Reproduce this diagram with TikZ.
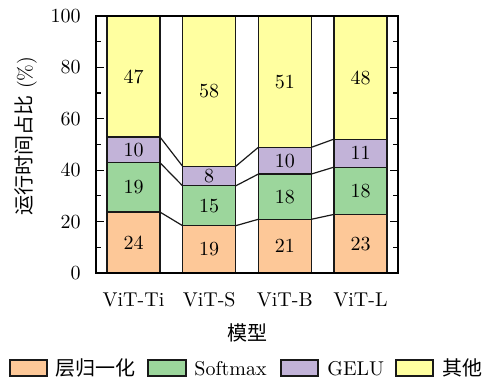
\documentclass[tikz,border=0pt]{standalone}
\usepackage{fontspec}
\newfontfamily\cjk{Noto Sans CJK SC}
\definecolor{cLN}{RGB}{253,200,152}
\definecolor{cSM}{RGB}{156,214,156}
\definecolor{cGE}{RGB}{194,179,216}
\definecolor{cOT}{RGB}{255,255,160}
\tikzset{
  seg/.style={draw=black!90, line width=0.6pt},
  link/.style={draw=black!90, line width=0.6pt},
  axisline/.style={draw=black, line width=0.6pt},
  val/.style={inner sep=0pt, font=\normalsize},
  ylbl/.style={anchor=east, inner sep=0pt},
}
\begin{document}
\begin{tikzpicture}[x=0.5pt, y=-0.5pt]
\useasboundingbox (0,0) rectangle (492,379);

% plot area: x in px from the axis' left edge, y in percent
\begin{scope}[shift={(96,273)}, y=1.285pt]
  \foreach \i/\a/\b/\c/\la/\lb/\lc/\ld in {
      0/23.7/42.9/52.9/24/19/10/47,
      1/18.4/33.9/41.5/19/15/8/58,
      2/20.9/38.5/48.9/21/18/10/51,
      3/22.8/41.2/52.1/23/18/11/48} {
    \pgfmathsetmacro\xl{11+75.67*\i}
    \pgfmathsetmacro\xr{\xl+53}
    \pgfmathsetmacro\xc{\xl+26.5}
    \draw[seg, fill=cLN] (\xl,0) rectangle (\xr,\a);
    \draw[seg, fill=cSM] (\xl,\a) rectangle (\xr,\b);
    \draw[seg, fill=cGE] (\xl,\b) rectangle (\xr,\c);
    \draw[seg, fill=cOT] (\xl,\c) rectangle (\xr,100);
    \coordinate (b\i-1l) at (\xl,\a); \coordinate (b\i-1r) at (\xr,\a);
    \coordinate (b\i-2l) at (\xl,\b); \coordinate (b\i-2r) at (\xr,\b);
    \coordinate (b\i-3l) at (\xl,\c); \coordinate (b\i-3r) at (\xr,\c);
    \node[val] (v\i-1) at (\xc,{\a/2}) {\la};
    \node[val] (v\i-2) at (\xc,{(\a+\b)/2}) {\lb};
    \node[val] (v\i-3) at (\xc,{(\b+\c)/2}) {\lc};
    \node[val] (v\i-4) at (\xc,{(\c+100)/2}) {\ld};
  }
  % lines joining the stack boundaries of neighbouring bars
  \foreach \i/\j in {0/1,1/2,2/3} {
    \foreach \k in {1,2,3} {
      \draw[link] (b\i-\k r) -- (b\j-\k l);
    }
  }
  % axis frame and ticks
  \draw[axisline] (0,0) rectangle (302,100);
  \foreach \v in {0,20,...,100} {
    \draw[axisline] (0,\v) -- ++(8,0);
    \draw[axisline] (302,\v) -- ++(-8,0);
    \node[ylbl] (yt\v) at (-15,\v) {\v};
  }
  \foreach \v in {10,30,...,90} {
    \draw[axisline] (0,\v) -- ++(5,0);
    \draw[axisline] (302,\v) -- ++(-5,0);
  }
\end{scope}

% category labels
\node[anchor=base] (x0) at (133.5,306.5) {ViT-Ti};
\node[anchor=base] (x1) at (209.2,306.5) {ViT-S};
\node[anchor=base] (x2) at (284.8,306.5) {ViT-B};
\node[anchor=base] (x3) at (360.5,306.5) {ViT-L};
\node (xtitle) at (247,333) {\cjk 模型};
\node[rotate=90] (ytitle) at (26,136) {{\cjk 运行时间占比} (\%)};

% legend
\draw[seg, fill=cLN] (10,360) rectangle (47,376);
\node[anchor=west, inner sep=0pt] (k1) at (55,368) {\cjk 层归一化};
\draw[seg, fill=cSM] (148,360) rectangle (186,376);
\node[anchor=base west, inner sep=0pt] (k2) at (194,375.5) {Softmax};
\draw[seg, fill=cGE] (281,360) rectangle (318,376);
\node[anchor=base west, inner sep=0pt] (k3) at (327,375.5) {GELU};
\draw[seg, fill=cOT] (396,360) rectangle (433,376);
\node[anchor=west, inner sep=0pt] (k4) at (442,368) {\cjk 其他};
\end{tikzpicture}
\end{document}
